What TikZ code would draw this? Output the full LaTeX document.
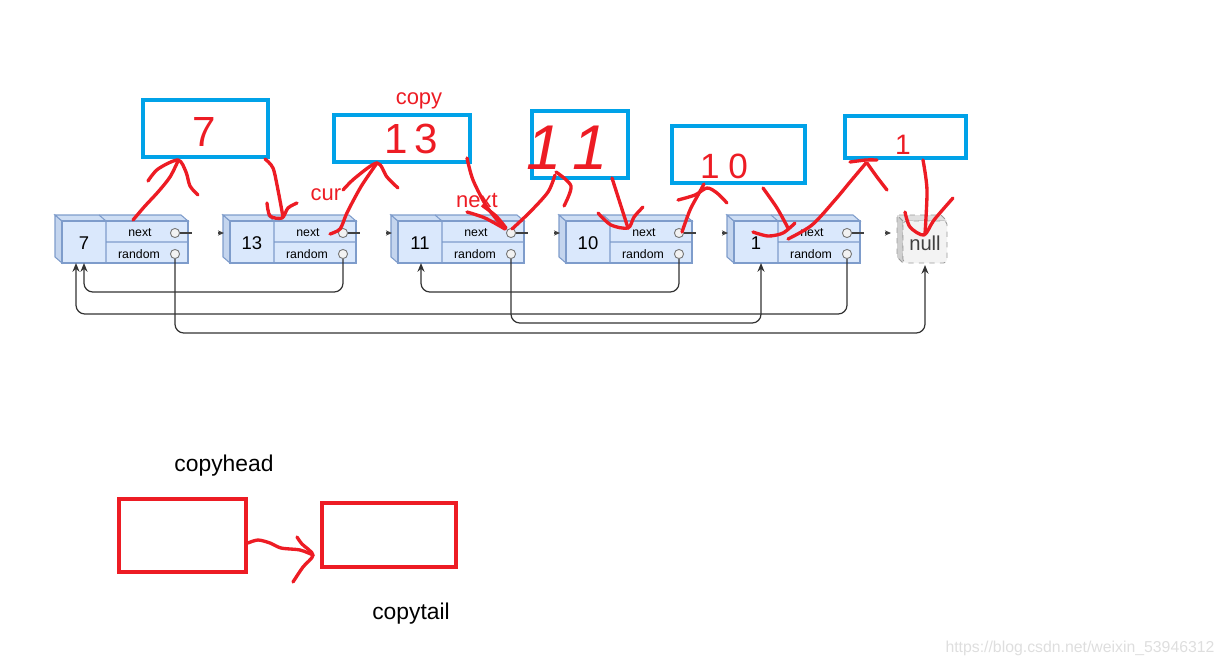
\documentclass[tikz,border=0pt]{standalone}
\usepackage{fontspec}
\setmainfont{Liberation Sans}
\usetikzlibrary{arrows.meta,calc}

\definecolor{cellfill}{HTML}{DAE8FC}
\definecolor{cellside}{HTML}{C4D5EE}
\definecolor{cellclr}{HTML}{7E9CCB}
\definecolor{copyclr}{HTML}{00A2E8}
\definecolor{penclr}{HTML}{ED1C24}
\definecolor{nullfill}{HTML}{F3F3F3}
\definecolor{nullclr}{HTML}{9A9A9A}

\begin{document}
\begin{tikzpicture}[x=0.02cm,y=-0.02cm,
  cellline/.style={draw=cellclr, line width=0.6pt},
  ptr/.style={circle, draw=black!55, fill=black!5, line width=0.5pt,
              inner sep=0pt, minimum size=5.2pt},
  rnd/.style={draw=black!80, line width=0.7pt, rounded corners=5pt,
              -{Stealth[length=5pt,width=4pt]}},
  link/.style={draw=black!75, line width=0.6pt},
  copybox/.style={draw=copyclr, line width=2.8pt},
  tailbox/.style={draw=penclr, line width=2.6pt},
  scrawl/.style={draw=penclr, line width=1.9pt, line cap=round, line join=round},
  hand/.style={text=penclr, font=\fontsize{24}{24}\selectfont, inner sep=0pt},
  redlbl/.style={text=penclr, font=\fontsize{12.5}{13}\selectfont, inner sep=0pt},
  blacklbl/.style={text=black, font=\fontsize{13}{14}\selectfont, inner sep=0pt},
  valtxt/.style={font=\fontsize{10.5}{10.5}\selectfont, inner sep=0pt},
  fieldtxt/.style={font=\fontsize{7}{7}\selectfont, inner sep=0pt}]

\useasboundingbox (0,0) rectangle (1225,667);

% ---- (1) the original list: 7 -> 13 -> 11 -> 10 -> 1 -> null ----
\foreach \i/\val in {1/7,2/13,3/11,4/10,5/1}{%
  \pgfmathsetmacro{\xa}{62+168*(\i-1)}
  \coordinate (L\i) at (\xa,221);
  \filldraw[cellline, fill=cellside]
     (\xa,221) -- ({\xa-7},215) -- ({\xa-7},257) -- (\xa,263) -- cycle;
  \filldraw[cellline, fill=cellside!55!cellfill]
     (\xa,221) -- ({\xa-7},215) -- ({\xa+119},215) -- ({\xa+126},221) -- cycle;
  \filldraw[cellline, fill=cellfill] (\xa,221) rectangle ({\xa+126},263);
  \draw[cellline] ({\xa+44},221) -- ({\xa+44},263)
                  ({\xa+44},242) -- ({\xa+126},242)
                  ({\xa+44},221) -- ({\xa+37},215);
  \node[valtxt]   (v\i)  at ({\xa+22},243) {\val};
  \node[fieldtxt] (nt\i) at ({\xa+78},233) {next};
  \node[fieldtxt] (rt\i) at ({\xa+77},254) {random};
  \node[ptr]      (nx\i) at ({\xa+113},233) {};
  \node[ptr]      (rd\i) at ({\xa+113},254) {};
}

% null box (dashed, grey)
\filldraw[draw=nullclr, dashed, line width=0.5pt, fill=nullfill!85!black]
   (903,221) -- (897,215) -- (897,257) -- (903,263) -- cycle;
\filldraw[draw=nullclr, dashed, line width=0.5pt, fill=nullfill!92!black]
   (903,221) -- (897,215) -- (941,215) -- (947,221) -- cycle;
\filldraw[draw=nullclr, dashed, line width=0.5pt, fill=nullfill,
          rounded corners=2pt] (903,221) rectangle (947,263);
\node[valtxt, text=black!75, font=\fontsize{11.5}{11.5}\selectfont]
     (nul) at (925,243) {null};
\coordinate (L6) at (897,221);

% ---- (2) next stubs (partly wiped in the screenshot) -----------
\foreach \i in {1,...,5}{%
  \draw[link] (nx\i.east) -- ++(12,0);
}
\foreach \j in {2,...,6}{%
  \draw[link, -{Stealth[length=3.5pt,width=3pt]}]
     ($(L\j)+(-12,12)$) -- ($(L\j)+(-6,12)$);
}

% ---- (3) random pointers ---------------------------------------
\coordinate (in7a) at (76,263);
\coordinate (in7b) at (84,263);
\coordinate (in11) at (421,263);
\coordinate (in1)  at (761,263);
\coordinate (innul) at (925,265);

\draw[rnd] (rd1.south) -- (rd1.south |- 0,333) -| (innul);
\draw[rnd] (rd2.south) -- (rd2.south |- 0,292) -| (in7b);
\draw[rnd] (rd3.south) -- (rd3.south |- 0,323) -| (in1);
\draw[rnd] (rd4.south) -- (rd4.south |- 0,292) -| (in11);
\draw[rnd] (rd5.south) -- (rd5.south |- 0,314) -| (in7a);

% ---- (4) copied nodes (blue boxes, hand-written values) --------
\draw[copybox] (143,100) rectangle (268,157);
\draw[copybox] (334,115) rectangle (470,162);
\draw[copybox] (532,111) rectangle (628,178);
\draw[copybox] (672,126) rectangle (805,183);
\draw[copybox] (845,116) rectangle (966,158);

\node[hand] (h1) at (204,132) {7};
\node[hand] (h2) at (411,139) {1\kern4pt3};
\node[hand, font=\fontsize{36}{36}\itshape] (h3) at (567,148) {1\kern6pt1};
\node[hand, font=\fontsize{20}{20}\selectfont] (h4) at (724,166) {1\kern5pt0};
\node[hand, font=\fontsize{16}{16}\selectfont] (h5) at (903,145) {1};

\node[redlbl] (lcopy) at (419,101) {copy};
\node[redlbl] (lcur)  at (326,195) {cur};
\node[redlbl] (lnext) at (477,201) {next};

% ---- (5) hand-drawn red arrows between list and copies ---------
% 7 -> copy 7
\draw[scrawl] plot[smooth] coordinates {(133,220) (145,206) (158,192) (170,177) (178,161)};
\draw[scrawl] plot[smooth] coordinates {(148,181) (158,169) (178,160) (186,172) (190,186) (198,195)};
% copy 7 -> 13
\draw[scrawl] plot[smooth] coordinates {(265,159) (273,168) (278,190) (283,217)};
\draw[scrawl] plot[smooth] coordinates {(267,203) (270,216) (282,218) (288,208) (297,203)};
% 13 -> copy 13
\draw[scrawl] plot[smooth] coordinates {(330,234) (340,229) (346,215) (352,203) (362,185) (377,163)};
\draw[scrawl] plot[smooth] coordinates {(343,190) (355,178) (377,163) (387,177) (398,188)};
% copy 13 -> 11
\draw[scrawl] plot[smooth] coordinates {(467,158) (473,180) (487,207) (505,229)};
\draw[scrawl] plot[smooth] coordinates {(467,212) (485,218) (505,229)};
\draw[scrawl] plot[smooth] coordinates {(483,206) (496,216) (506,228)};
% 11 -> copy 11
\draw[scrawl] plot[smooth] coordinates {(512,229) (530,212) (548,192) (555,175)};
\draw[scrawl] plot[smooth] coordinates {(556,172) (571,186) (564,206)};
% copy 11 -> 10
\draw[scrawl] plot[smooth] coordinates {(612,178) (620,203) (628,228)};
\draw[scrawl] plot[smooth] coordinates {(598,213) (611,225) (628,228) (634,217) (643,207)};
% 10 -> copy 10
\draw[scrawl] plot[smooth] coordinates {(682,232) (690,210) (698,195) (704,184)};
\draw[scrawl] plot[smooth] coordinates {(678,200) (695,195) (707,188) (717,193) (727,203)};
% copy 10 -> 1
\draw[scrawl] plot[smooth] coordinates {(763,188) (777,208) (788,228)};
\draw[scrawl] plot[smooth] coordinates {(753,232) (768,236) (783,233) (795,223)};
% 1 -> copy 1
\draw[scrawl] plot[smooth] coordinates {(788,239) (812,225) (835,200) (850,182) (866,163)};
\draw[scrawl] plot[smooth] coordinates {(850,162) (866,160) (877,160)};
\draw[scrawl] plot[smooth] coordinates {(867,163) (877,177) (887,190)};
% copy 1 -> null
\draw[scrawl] plot[smooth] coordinates {(923,160) (927,190) (925,234)};
\draw[scrawl] plot[smooth] coordinates {(905,212) (910,227) (924,235) (934,220) (953,198)};

% ---- (6) copyhead / copytail -----------------------------------
\draw[tailbox] (119,499) rectangle (246,572);
\draw[tailbox] (322,503) rectangle (456,567);
\draw[scrawl] plot[smooth] coordinates {(248,543) (258,540) (270,543) (281,548) (300,550) (313,555)};
\draw[scrawl] plot[smooth] coordinates {(297,537) (302,544) (313,555) (303,567) (293,582)};
\node[blacklbl] (chead) at (224,466) {copyhead};
\node[blacklbl] (ctail) at (411,614) {copytail};

% ---- (7) watermark ---------------------------------------------
\node[font=\fontsize{9}{9}\selectfont, text=black!13, inner sep=0pt]
     (wm) at (1080,648) {https://blog.csdn.net/weixin\_53946312};

\end{tikzpicture}
\end{document}
